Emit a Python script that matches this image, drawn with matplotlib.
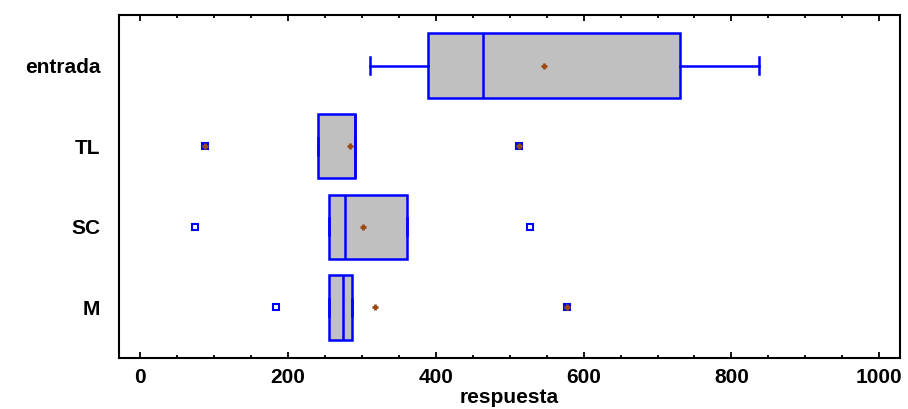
import matplotlib
matplotlib.use("Agg")
import matplotlib.pyplot as plt
from matplotlib.ticker import MultipleLocator

plt.rcParams['font.family'] = ['Liberation Sans', 'DejaVu Sans']

# groups, bottom to top
groups = ['M', 'SC', 'TL', 'entrada']
whis_lo = [256, 256, 240, 311]
q1 = [256, 256, 240, 390]
medians = [274, 277, 290, 464]
q3 = [287, 361, 291, 730]
whis_hi = [287, 361, 291, 837]
means = [318, 301, 284, 547]
# outside points (open squares) and far outside points (square + plus)
outside = [[184], [74, 527], [], []]
far_outside = [[577], [], [87, 513], []]

blue = '#0000FF'
brown = '#9C4A12'

stats = []
for i in range(len(groups)):
    stats.append(dict(label=groups[i], whislo=whis_lo[i], q1=q1[i], med=medians[i],
                      q3=q3[i], whishi=whis_hi[i], fliers=[]))

fig = plt.figure(figsize=(9.08, 4.09), dpi=100)
ax = fig.add_axes([0.131, 0.125, 0.860, 0.839])

pos = list(range(1, len(groups) + 1))
ax.bxp(stats, positions=pos, widths=0.8, capwidths=0.21, orientation='horizontal',
       patch_artist=True, showfliers=False,
       boxprops=dict(facecolor='#C0C0C0', edgecolor=blue, linewidth=1.8),
       whiskerprops=dict(color=blue, linewidth=1.8),
       capprops=dict(color=blue, linewidth=1.8),
       medianprops=dict(color=blue, linewidth=1.8))

for i in range(len(groups)):
    y = pos[i]
    for v in outside[i]:
        ax.plot(v, y, 's', ms=4.5, mfc='none', mec=blue, mew=1.5, zorder=4)
    for v in far_outside[i]:
        ax.plot(v, y, 's', ms=4.5, mfc=blue, mec=blue, mew=1.5, zorder=4)
        ax.plot(v, y, '+', ms=5, color=brown, mew=2, zorder=5)
    ax.plot(means[i], y, '+', ms=5, color=brown, mew=2, zorder=5)

ax.set_xlim(-29, 1028)
ax.set_ylim(0.375, 4.63)
ax.xaxis.set_major_locator(MultipleLocator(200))
ax.xaxis.set_minor_locator(MultipleLocator(50))
ax.tick_params(axis='x', which='both', direction='in', top=True, width=1.3)
ax.tick_params(axis='x', which='major', length=4, pad=7)
ax.tick_params(axis='x', which='minor', length=2)
ax.tick_params(axis='y', which='both', left=False, pad=10)
ax.set_yticks(pos)
ax.set_yticklabels(groups)
for lab in ax.get_xticklabels() + ax.get_yticklabels():
    lab.set_fontweight('bold')
    lab.set_fontsize(15)
ax.set_xlabel('respuesta', fontsize=15, fontweight='bold', labelpad=1)
for s in ax.spines.values():
    s.set_linewidth(1.5)

fig.savefig('out.png', dpi=100)
